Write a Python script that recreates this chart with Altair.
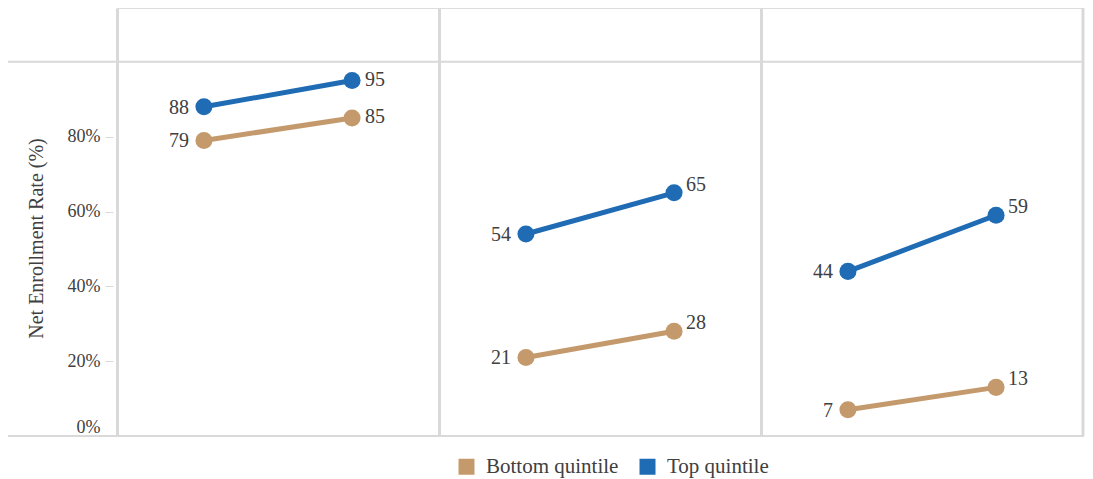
import altair as alt
import pandas as pd

panels = ["Panel 1", "Panel 2", "Panel 3"]
periods = ["Start", "End"]
series = ["Bottom quintile", "Top quintile"]
bottom_values = [79, 85, 21, 28, 7, 13]
top_values = [88, 95, 54, 65, 44, 59]
y_ticks = [0, 20, 40, 60, 80]
reference_lines = [0, 100]
colors = ["#C49A6C", "#1F6BB4"]

rows = []
for s, vals in zip(series, [bottom_values, top_values]):
    i = 0
    for p in panels:
        for per in periods:
            rows.append({"panel": p, "period": per, "series": s, "value": vals[i]})
            i += 1
df = pd.DataFrame(rows)

FONT = "Liberation Serif"
GRID = "#d9d9d9"
TEXT = "#404040"
W = 966

x_scale = alt.Scale(domain=panels, paddingInner=0, paddingOuter=0)
x_enc = alt.X("panel:N", sort=panels, scale=x_scale,
              axis=alt.Axis(title=None, labels=False, ticks=False, domain=False,
                            grid=True, bandPosition=0, gridColor=GRID, gridWidth=3))
xo_enc = alt.XOffset("period:N", sort=periods,
                     scale=alt.Scale(type="point", domain=periods, padding=0.587))
y_enc = alt.Y("value:Q", scale=alt.Scale(domain=[0, 114.4], nice=False, zero=True),
              axis=alt.Axis(values=y_ticks, labelExpr="datum.value + '%'", tickSize=8,
                            tickColor=GRID, domain=False, grid=False, offset=4,
                            labelPadding=5, labelFont=FONT, labelFontSize=18,
                            labelColor=TEXT, labelFlush=True,
                            title="Net Enrollment Rate (%)", titleFont=FONT,
                            titleFontSize=20, titleColor=TEXT, titleFontWeight="normal",
                            titleX=-77, titleY=230, titleAngle=270,
                            titleAlign="center", titleBaseline="middle"))
color_enc = alt.Color("series:N", sort=series,
                      scale=alt.Scale(domain=series, range=colors),
                      legend=alt.Legend(title=None, orient="none", legendX=339, legendY=448,
                                        direction="horizontal", symbolType="square",
                                        symbolSize=256, symbolStrokeWidth=0,
                                        symbolOpacity=1,
                                        labelFont=FONT, labelFontSize=21, labelColor=TEXT,
                                        columnPadding=18, labelOffset=9))

base = alt.Chart(df).encode(x=x_enc, xOffset=xo_enc, y=y_enc)

lines = base.mark_line(strokeWidth=5).encode(color=color_enc, detail="panel:N")
points = base.mark_circle(size=290, opacity=1).encode(color=color_enc)

left_labels = base.transform_filter("datum.period == 'Start'").mark_text(
    align="right", baseline="middle", dx=-15, dy=1, font=FONT, fontSize=20, color=TEXT
).encode(text="value:Q")
right_labels_a = base.transform_filter(
    "datum.period == 'End' && datum.panel == 'Panel 1'").mark_text(
    align="left", baseline="middle", dx=13, dy=-1, font=FONT, fontSize=20, color=TEXT
).encode(text="value:Q")
right_labels_b = base.transform_filter(
    "datum.period == 'End' && datum.panel != 'Panel 1'").mark_text(
    align="left", baseline="middle", dx=12, dy=-8, font=FONT, fontSize=20, color=TEXT
).encode(text="value:Q")

hlines = alt.Chart(pd.DataFrame({"value": reference_lines})).mark_rule(
    color=GRID, strokeWidth=2
).encode(y=alt.Y("value:Q"), x=alt.value(-112), x2=alt.value(W + 1))

right_edge = alt.Chart(pd.DataFrame({"panel": [panels[-1]]})).mark_rule(
    color=GRID, strokeWidth=3
).encode(x=alt.X("panel:N", sort=panels, bandPosition=1))

chart = alt.layer(
    hlines, right_edge, lines, points, left_labels, right_labels_a, right_labels_b
).properties(
    width=W, height=428,
    autosize=alt.AutoSizeParams(type="none"),
    padding={"left": 109, "top": 0, "right": 2, "bottom": 43},
).configure_view(stroke=None).configure(background="white")

chart.save("out.html", embed_options={"renderer": "svg", "actions": False})
